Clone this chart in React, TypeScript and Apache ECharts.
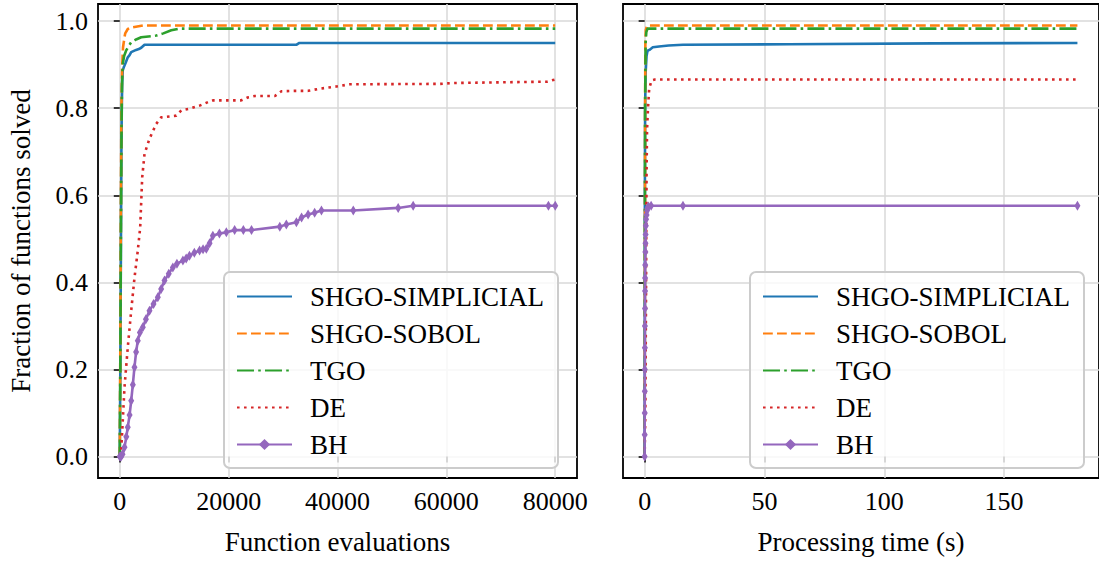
import React, { useEffect, useRef } from "react";
import * as echarts from "echarts";

// ---------- tick labels ----------
const evalTicks = [0, 20000, 40000, 60000, 80000];
const timeTicks = [0, 50, 100, 150];
const fracTicks = [0, 0.2, 0.4, 0.6, 0.8, 1.0];

// ---------- series names ----------
const names = ["SHGO-SIMPLICIAL", "SHGO-SOBOL", "TGO", "DE", "BH"];
const colors = ["#1f77b4", "#ff7f0e", "#2ca02c", "#d62728", "#9467bd"];

// ---------- left panel: function evaluations ----------
const simplicialEvals = [0, 100, 200, 300, 370, 450, 550, 700, 870, 1100, 1470, 1800, 2100, 3000, 3500, 3940, 4545, 32500, 33000, 80000];
const simplicialEvalFrac = [0, 0.2, 0.45, 0.7, 0.8, 0.86, 0.887, 0.893, 0.898, 0.905, 0.917, 0.922, 0.929, 0.934, 0.936, 0.939, 0.946, 0.946, 0.950, 0.950];

const sobolEvals = [0, 100, 200, 300, 450, 600, 870, 1000, 1470, 2000, 4230, 80000];
const sobolEvalFrac = [0, 0.25, 0.55, 0.8, 0.9, 0.94, 0.963, 0.972, 0.982, 0.985, 0.990, 0.990];

const tgoEvals = [0, 100, 200, 300, 400, 550, 800, 1180, 1500, 2100, 3000, 3940, 6700, 8000, 9460, 11000, 80000];
const tgoEvalFrac = [0, 0.2, 0.5, 0.72, 0.85, 0.902, 0.92, 0.933, 0.94, 0.952, 0.958, 0.963, 0.967, 0.972, 0.979, 0.983, 0.983];

const deEvals = [0, 250, 550, 870, 1470, 2100, 2700, 3310, 3750, 3940, 4120, 4545, 5460, 6700, 7600, 10380, 11300, 12800, 14660, 16200, 17100, 22300, 23550, 24800, 28500, 29700, 32150, 34600, 36750, 39800, 42270, 58800, 61200, 72300, 78450, 80000];
const deEvalFrac = [0, 0.013, 0.082, 0.159, 0.251, 0.335, 0.41, 0.473, 0.526, 0.585, 0.641, 0.695, 0.730, 0.764, 0.779, 0.783, 0.795, 0.799, 0.806, 0.814, 0.818, 0.818, 0.825, 0.828, 0.828, 0.839, 0.840, 0.840, 0.845, 0.850, 0.855, 0.856, 0.858, 0.860, 0.861, 0.866];

const bhEvals = [0, 100, 250, 500, 870, 1200, 1470, 1800, 2100, 2400, 2700, 3000, 3310, 3700, 4230, 4800, 5460, 6200, 6990, 7600, 8220, 9000, 9750, 10500, 11600, 12200, 12800, 13700, 14660, 15300, 15900, 16500, 17100, 18300, 19580, 21100, 22700, 24200, 29400, 30600, 32450, 33400, 34600, 35800, 37050, 42900, 51150, 53900, 78750, 80000];
const bhEvalFrac = [0, 0, 0, 0.005, 0.021, 0.045, 0.067, 0.095, 0.128, 0.165, 0.205, 0.24, 0.266, 0.285, 0.297, 0.315, 0.335, 0.35, 0.366, 0.385, 0.404, 0.42, 0.434, 0.443, 0.450, 0.455, 0.461, 0.468, 0.473, 0.476, 0.477, 0.49, 0.507, 0.512, 0.515, 0.520, 0.520, 0.520, 0.528, 0.533, 0.538, 0.549, 0.556, 0.560, 0.565, 0.565, 0.571, 0.576, 0.576, 0.576];

// ---------- right panel: processing time (s) ----------
const simplicialTime = [0, 0.05, 0.1, 0.2, 0.4, 0.8, 1.2, 2.0, 3.4, 6, 10, 16, 60, 120, 180.6];
const simplicialTimeFrac = [0, 0.3, 0.6, 0.8, 0.88, 0.92, 0.932, 0.934, 0.94, 0.942, 0.944, 0.946, 0.947, 0.949, 0.95];

const sobolTime = [0, 0.1, 0.2, 0.3, 0.5, 1.0, 180.6];
const sobolTimeFrac = [0, 0.4, 0.8, 0.95, 0.98, 0.99, 0.99];

const tgoTime = [0, 0.1, 0.2, 0.4, 0.7, 1.2, 180.6];
const tgoTimeFrac = [0, 0.4, 0.8, 0.95, 0.975, 0.983, 0.983];

const deTime = [0, 0.3, 0.6, 0.8, 1.0, 1.4, 1.9, 2.9, 4.3, 180.6];
const deTimeFrac = [0, 0.1, 0.4, 0.65, 0.75, 0.8, 0.845, 0.864, 0.866, 0.866];

const bhTime = [0, 0.02, 0.04, 0.06, 0.08, 0.1, 0.12, 0.15, 0.18, 0.2, 0.25, 0.3, 0.35, 0.4, 0.5, 0.6, 0.8, 1.0, 1.2, 1.6, 2.7, 16, 180.6];
const bhTimeFrac = [0, 0.05, 0.1, 0.15, 0.2, 0.25, 0.3, 0.34, 0.38, 0.41, 0.44, 0.47, 0.49, 0.51, 0.53, 0.545, 0.555, 0.565, 0.57, 0.574, 0.576, 0.576, 0.576];

const FONT = "'Liberation Serif', 'DejaVu Serif', serif";

const zip = (xs: number[], ys: number[]) => xs.map((x, i) => [x, ys[i]]);

const lineStyles: any[] = [
  { type: "solid" },
  { type: [9.8, 4.2] },
  { type: [17, 4.2, 2.6, 4.2] },
  { type: [2.6, 4.4] },
  { type: "solid" },
];

export default function App() {
  const ref = useRef<HTMLDivElement>(null);
  useEffect(() => {
    if (!ref.current) return;
    const chart = echarts.init(ref.current, undefined, { renderer: "svg" });

    const leftData = [
      zip(simplicialEvals, simplicialEvalFrac),
      zip(sobolEvals, sobolEvalFrac),
      zip(tgoEvals, tgoEvalFrac),
      zip(deEvals, deEvalFrac),
      zip(bhEvals, bhEvalFrac),
    ];
    const rightData = [
      zip(simplicialTime, simplicialTimeFrac),
      zip(sobolTime, sobolTimeFrac),
      zip(tgoTime, tgoTimeFrac),
      zip(deTime, deTimeFrac),
      zip(bhTime, bhTimeFrac),
    ];

    const mkSeries = (data: number[][][], axis: number) =>
      names.map((name, i) => ({
        name,
        type: "line",
        xAxisIndex: axis,
        yAxisIndex: axis,
        data: data[i],
        color: colors[i],
        symbol: i === 4 ? "diamond" : "none",
        symbolSize: [6, 10],
        showSymbol: i === 4,
        lineStyle: { width: 2.6, color: colors[i], cap: "butt", ...lineStyles[i] },
        itemStyle: { color: colors[i] },
        z: 2 + i,
        clip: false,
      }));

    const tickStyle = { show: true, length: 6, inside: false, lineStyle: { color: "#000", width: 1.5 } };
    const splitStyle = { show: true, lineStyle: { color: "#d9d9d9", width: 1.5 } };
    const labelStyle = { color: "#000", fontSize: 26, fontFamily: FONT };

    const legendData = names.map((n, i) =>
      i < 4 ? { name: n, itemStyle: { opacity: 0, borderWidth: 0 } } : { name: n }
    );

    const legendBase = {
      orient: "vertical",
      top: 272,
      itemWidth: 55,
      itemHeight: 14,
      itemGap: 10,
      padding: [11, 14, 10, 12],
      backgroundColor: "rgba(255,255,255,0.8)",
      borderColor: "#cccccc",
      borderWidth: 2,
      borderRadius: 6,
      data: legendData,
      textStyle: { color: "#000", fontSize: 27, lineHeight: 27, fontFamily: FONT, padding: [0, 0, 0, 13] },
    };

    chart.setOption({
      animation: false,
      backgroundColor: "#fff",
      textStyle: { fontFamily: FONT },
      grid: [
        { left: 98, top: 4, width: 479, height: 474, show: true, borderColor: "#000", borderWidth: 1.8, backgroundColor: "transparent" },
        { left: 623, top: 4, width: 480, height: 474, show: true, borderColor: "#000", borderWidth: 1.8, backgroundColor: "transparent" },
      ],
      legend: [
        { ...legendBase, left: 224 },
        { ...legendBase, left: 750 },
      ],
      xAxis: [
        {
          type: "value",
          gridIndex: 0,
          min: -4000,
          max: 84000,
          name: "Function evaluations",
          nameLocation: "middle",
          nameGap: 50,
          nameTextStyle: { ...labelStyle, fontSize: 27 },
          axisLine: { show: false },
          axisTick: { ...tickStyle, customValues: evalTicks },
          axisLabel: { ...labelStyle, margin: 10, customValues: evalTicks, formatter: (v: number) => String(v) },
          splitLine: splitStyle,
        },
        {
          type: "value",
          gridIndex: 1,
          min: -9.03,
          max: 189.6,
          name: "Processing time (s)",
          nameLocation: "middle",
          nameGap: 50,
          nameTextStyle: { ...labelStyle, fontSize: 27 },
          axisLine: { show: false },
          axisTick: { ...tickStyle, customValues: timeTicks },
          axisLabel: { ...labelStyle, margin: 10, customValues: timeTicks, formatter: (v: number) => String(v) },
          splitLine: splitStyle,
        },
      ],
      yAxis: [
        {
          type: "value",
          gridIndex: 0,
          min: -0.0495,
          max: 1.0395,
          name: "Fraction of functions solved",
          nameLocation: "middle",
          nameGap: 64,
          nameTextStyle: { ...labelStyle, fontSize: 27 },
          axisLine: { show: false },
          axisTick: { ...tickStyle, customValues: fracTicks },
          axisLabel: { ...labelStyle, margin: 10, customValues: fracTicks, formatter: (v: number) => v.toFixed(1) },
          splitLine: splitStyle,
        },
        {
          type: "value",
          gridIndex: 1,
          min: -0.0495,
          max: 1.0395,
          axisLine: { show: false },
          axisTick: { ...tickStyle, customValues: fracTicks },
          axisLabel: { show: false, customValues: fracTicks },
          splitLine: splitStyle,
        },
      ],
      series: [...mkSeries(leftData, 0), ...mkSeries(rightData, 1)],
    });
    return () => chart.dispose();
  }, []);

  return (
    <div
      ref={ref}
      style={{ position: "absolute", left: 0, top: 0, width: 1099, height: 562, background: "#fff" }}
    />
  );
}
